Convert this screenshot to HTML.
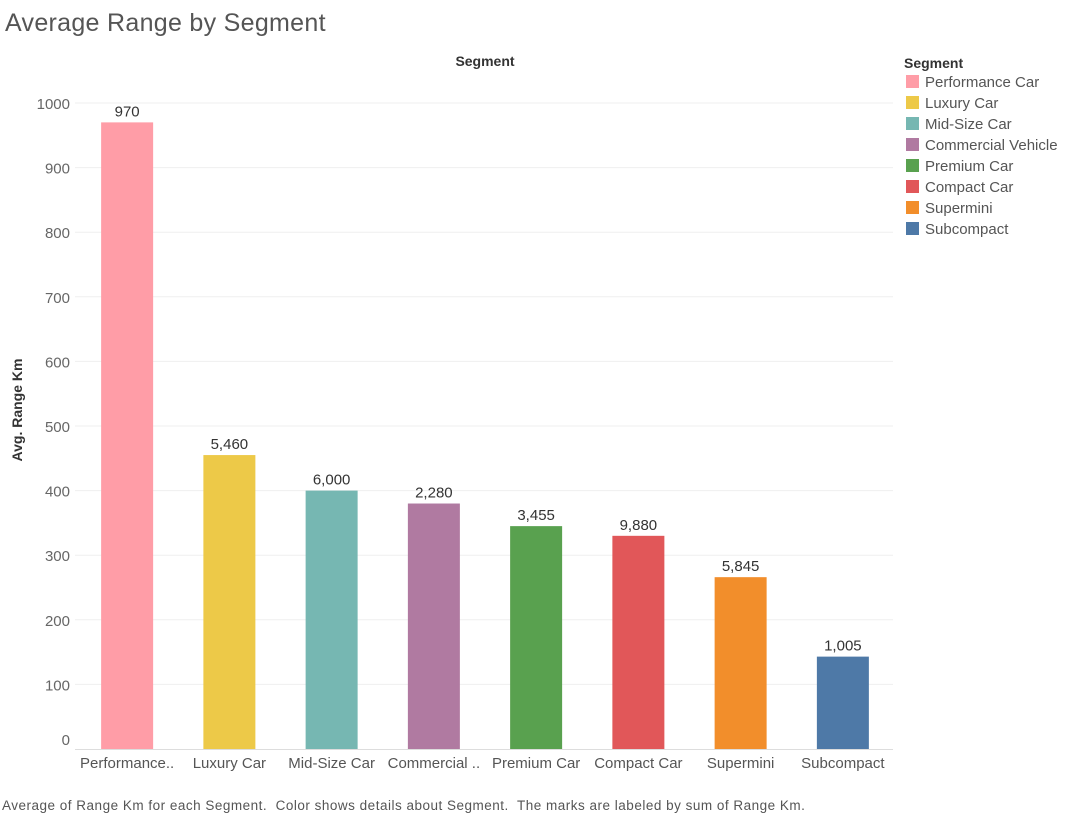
<!DOCTYPE html>
<html><head><meta charset="utf-8"><style>
body{margin:0;width:1068px;height:818px;background:#fff;font-family:"Liberation Sans",sans-serif;overflow:hidden;position:relative}
.t{position:absolute;white-space:pre}
</style></head><body>
<div class="t" style="left:5px;top:9px;font-size:25px;color:#555;letter-spacing:0.3px">Average Range by Segment</div>
<svg id="c" width="1068" height="818" style="position:absolute;left:0;top:0"></svg>
<div class="t" style="left:2px;top:798px;font-size:13.5px;color:#555;letter-spacing:0.5px">Average of Range Km for each Segment.  Color shows details about Segment.  The marks are labeled by sum of Range Km.</div>
<script>
const categories=["Performance Car","Luxury Car","Mid-Size Car","Commercial Vehicle","Premium Car","Compact Car","Supermini","Subcompact"];
const axisLabels=["Performance..","Luxury Car","Mid-Size Car","Commercial ..","Premium Car","Compact Car","Supermini","Subcompact"];
const avgRange=[970,455,400,380,345,330,266,143];
const sumLabels=["970","5,460","6,000","2,280","3,455","9,880","5,845","1,005"];
const colors=["#ff9da7","#edc948","#76b7b2","#b07aa1","#59a14f","#e15759","#f28e2b","#4e79a7"];
const yTicks=[0,100,200,300,400,500,600,700,800,900,1000];
const svg=document.getElementById('c');const NS="http://www.w3.org/2000/svg";
const x0=75,x1=893,y0=749,y1000=103;
const y=v=>y0-(v/1000)*(y0-y1000);
const band=(x1-x0)/categories.length;
const xc=i=>x0+band*(i+0.5)+1;
function mk(t,a,txt){const e=document.createElementNS(NS,t);for(const k in a)e.setAttribute(k,a[k]);if(txt!==undefined)e.textContent=txt;svg.appendChild(e);return e;}
yTicks.forEach(v=>{
 if(v>0){const g=mk('line',{x1:x0,x2:x1,y1:y(v),y2:y(v),stroke:'#efefef'});}
 const t=mk('text',{x:70,y:(v===0?739:y(v))+6,'text-anchor':'end','font-size':15,fill:'#666'},v);
 
 
});
const ax=mk('line',{x1:x0,x2:x1,y1:y0+0.5,y2:y0+0.5,stroke:'#ddd'});

const yt=mk('text',{transform:'translate(22,410) rotate(-90)','text-anchor':'middle','font-size':14,'font-weight':'bold',fill:'#333'},'Avg. Range Km');

const xt=mk('text',{x:485,y:66,'text-anchor':'middle','font-size':14,'font-weight':'bold',fill:'#333'},'Segment');

avgRange.forEach((v,i)=>{
 const r=mk('rect',{x:xc(i)-26,y:y(v),width:52,height:y0-y(v),fill:colors[i]});
 
 
 const l=mk('text',{x:xc(i),y:y(v)-6,'text-anchor':'middle','font-size':15,fill:'#333'},sumLabels[i]);
 
 
 const c=mk('text',{x:xc(i),y:768,'text-anchor':'middle','font-size':15,fill:'#555'},axisLabels[i]);
 
 
});
const lt=mk('text',{x:904,y:68,'font-size':14,'font-weight':'bold',fill:'#333'},'Segment');

categories.forEach((c,i)=>{
 const yy=75+i*21;
 const s=mk('rect',{x:906,y:yy,width:13,height:13,fill:colors[i]});
 
 
 const t=mk('text',{x:925,y:yy+12,'font-size':15,fill:'#555'},c);
 
 
});
</script>
</body></html>
